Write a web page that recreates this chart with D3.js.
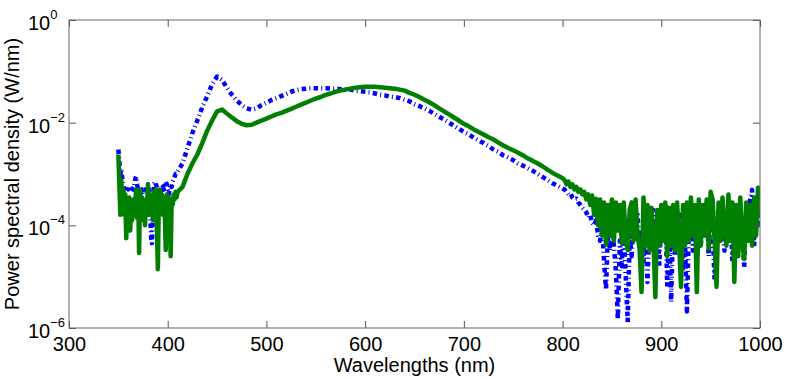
<!DOCTYPE html>
<html>
<head>
<meta charset="utf-8">
<script src="https://cdn.jsdelivr.net/npm/d3@7"></script>
<style>
  body { margin: 0; background: #fff; }
  text { font-family: "Liberation Sans", Arial, sans-serif; fill: #000; }
</style>
</head>
<body>
<script>
// wavelength grids (nm) for the three parts of the spectrum
var wlLeft = d3.range(350, 411, 1);
var wlMid = d3.range(415, 801, 5);
var wlRight = d3.range(802, 1001, 2);

var xTicks = [300, 400, 500, 600, 700, 800, 900, 1000];
var yTicks = [1e-6, 1e-4, 1e-2, 1];
var yTickExp = ["\u22126", "\u22124", "\u22122", "0"];

// blue dash-dot series (W/nm)
var blueLeft = [
  3.0e-3, 1.8e-3, 1.0e-3, 1.26e-3, 7.9e-4, 6.3e-4, 5.0e-4, 5.6e-4, 4.5e-4, 5.0e-4,
  5.0e-4, 5.6e-4, 5.0e-4, 4.5e-4, 5.2e-4, 5.0e-4, 5.6e-4, 7.9e-4, 8.9e-4, 6.3e-4,
  5.0e-4, 4.5e-4, 5.0e-4, 4.5e-4, 5.0e-4, 4.5e-4, 4.0e-4, 4.5e-4, 5.0e-4, 5.6e-4,
  6.3e-4, 5.0e-4, 2.5e-4, 6.3e-5, 4.5e-5, 1.6e-4, 6.3e-4, 7.1e-4, 6.3e-4, 5.6e-4,
  5.0e-4, 4.5e-4, 5.0e-4, 4.0e-4, 5.0e-4, 5.6e-4, 5.0e-4, 6.3e-4, 7.1e-4, 6.3e-4,
  5.0e-4, 4.0e-4, 5.0e-4, 6.3e-4, 5.6e-4, 7.1e-4, 7.9e-4, 8.9e-4, 1.0e-3, 1.0e-3,
  1.12e-3
];
var blueMid = [
  1.6e-3, 3.2e-3, 6.3e-3, 1.1e-2, 2.0e-2, 3.3e-2, 5.6e-2, 7.9e-2, 6.8e-2, 4.8e-2,
  3.5e-2, 2.7e-2, 2.2e-2, 1.9e-2, 1.78e-2, 1.9e-2, 2.2e-2, 2.45e-2, 2.75e-2, 3.0e-2,
  3.3e-2, 3.6e-2, 4.0e-2, 4.3e-2, 4.5e-2, 4.6e-2, 4.7e-2, 4.7e-2, 4.7e-2, 4.7e-2,
  4.6e-2, 4.6e-2, 4.5e-2, 4.5e-2, 4.4e-2, 4.2e-2, 4.1e-2, 4.0e-2, 3.9e-2, 3.7e-2,
  3.5e-2, 3.4e-2, 3.2e-2, 3.16e-2, 3.0e-2, 2.8e-2, 2.6e-2, 2.3e-2, 2.1e-2, 1.9e-2,
  1.7e-2, 1.5e-2, 1.3e-2, 1.15e-2, 1.0e-2, 8.7e-3, 7.6e-3, 6.6e-3, 5.9e-3, 5.1e-3,
  4.5e-3, 4.0e-3, 3.5e-3, 3.0e-3, 2.7e-3, 2.3e-3, 2.1e-3, 1.86e-3, 1.6e-3, 1.45e-3,
  1.3e-3, 1.15e-3, 1.0e-3, 8.7e-4, 7.6e-4, 6.6e-4, 5.9e-4, 5.2e-4
];
var blueRight = [
  5.0e-4, 4.5e-4, 4.0e-4, 4.2e-4, 3.5e-4, 3.2e-4, 3.3e-4, 2.8e-4, 2.5e-4, 2.2e-4,
  2.0e-4, 1.8e-4, 1.4e-4, 1.6e-4, 1.12e-4, 1.0e-4, 1.26e-4, 6.3e-5, 5.0e-5, 1.0e-4,
  2.0e-5, 5.5e-6, 7.9e-5, 3.2e-5, 1.26e-4, 4.0e-5, 1.26e-5, 1.45e-6, 5.0e-5, 1.6e-5,
  1.0e-4, 1.0e-5, 1.26e-6, 6.3e-5, 2.5e-5, 2.0e-4, 5.0e-5, 1.6e-4, 4.0e-5, 7.9e-5,
  2.0e-5, 1.6e-4, 7.9e-6, 1.0e-4, 4.0e-5, 2.0e-4, 5.0e-5, 1.26e-4, 1.6e-5, 1.6e-4,
  6.3e-5, 2.5e-4, 6.3e-6, 1.0e-4, 3.2e-6, 1.26e-4, 2.5e-5, 2.0e-4, 4.0e-5, 1.6e-4,
  1.26e-5, 5.0e-5, 2.1e-6, 1.0e-4, 2.5e-4, 3.2e-5, 1.6e-4, 6.3e-5, 2.5e-4, 4.0e-5,
  2.0e-4, 7.9e-5, 2.8e-4, 2.5e-5, 2.0e-4, 7.9e-5, 8.5e-6, 1.0e-4, 2.0e-4, 5.0e-5,
  1.6e-4, 3.2e-5, 1.26e-4, 6.3e-5, 2.5e-4, 1.95e-5, 1.0e-4, 1.6e-4, 5.0e-5, 2.0e-4,
  6.3e-5, 1.55e-5, 1.6e-4, 7.9e-5, 3.2e-4, 4.9e-4, 3.8e-5, 2.0e-4, 1.0e-4, 2.5e-4
];

// green solid series (W/nm)
var greenLeft = [
  2.4e-3, 6.3e-4, 1.6e-4, 7.6e-4, 2.0e-4, 5.0e-4, 1.6e-4, 4.0e-4, 5.6e-5, 3.2e-4,
  1.26e-4, 3.5e-4, 7.9e-5, 2.5e-4, 1.26e-4, 3.2e-4, 1.6e-4, 2.2e-4, 5.0e-4, 1.4e-4,
  4.5e-4, 2.9e-5, 4.9e-4, 1.8e-4, 3.5e-4, 1.26e-4, 2.8e-4, 1.0e-4, 3.2e-4, 2.0e-4,
  6.2e-4, 1.6e-4, 4.0e-4, 2.0e-4, 3.5e-4, 1.26e-4, 4.5e-4, 2.5e-4, 5.0e-4, 1.0e-4,
  1.4e-5, 3.2e-4, 5.0e-4, 2.0e-4, 4.0e-4, 1.6e-4, 3.5e-4, 2.0e-4, 3.3e-5, 4.0e-4,
  2.5e-4, 3.5e-4, 1.6e-4, 2.5e-5, 3.2e-4, 2.5e-4, 4.0e-4, 3.2e-4, 4.5e-4, 3.5e-4,
  4.5e-4
];
var greenMid = [
  5.6e-4, 1.0e-3, 1.6e-3, 2.4e-3, 4.0e-3, 7.0e-3, 1.1e-2, 1.66e-2, 1.8e-2, 1.5e-2,
  1.26e-2, 1.07e-2, 9.5e-3, 8.9e-3, 9.1e-3, 1.0e-2, 1.1e-2, 1.2e-2, 1.32e-2, 1.45e-2,
  1.55e-2, 1.7e-2, 1.86e-2, 2.04e-2, 2.24e-2, 2.45e-2, 2.7e-2, 2.95e-2, 3.16e-2, 3.47e-2,
  3.7e-2, 4.0e-2, 4.2e-2, 4.4e-2, 4.6e-2, 4.8e-2, 4.9e-2, 5.0e-2, 5.0e-2, 5.0e-2,
  4.9e-2, 4.8e-2, 4.7e-2, 4.6e-2, 4.4e-2, 4.2e-2, 3.8e-2, 3.5e-2, 3.16e-2, 2.8e-2,
  2.5e-2, 2.2e-2, 1.9e-2, 1.66e-2, 1.45e-2, 1.26e-2, 1.1e-2, 9.5e-3, 8.5e-3, 7.4e-3,
  6.6e-3, 5.9e-3, 5.2e-3, 4.7e-3, 4.1e-3, 3.6e-3, 3.2e-3, 2.9e-3, 2.6e-3, 2.3e-3,
  2.0e-3, 1.8e-3, 1.6e-3, 1.4e-3, 1.2e-3, 1.05e-3, 9.3e-4, 8.3e-4
];
var greenRight = [
  7.6e-4, 6.3e-4, 7.1e-4, 5.6e-4, 6.3e-4, 5.0e-4, 5.6e-4, 4.5e-4, 5.0e-4, 4.0e-4,
  4.5e-4, 3.2e-4, 4.0e-4, 2.5e-4, 3.8e-4, 1.6e-4, 3.3e-4, 1.0e-4, 3.2e-4, 6.3e-5,
  2.8e-4, 4.2e-5, 2.5e-4, 6.3e-5, 3.2e-4, 5.0e-5, 2.8e-4, 7.9e-5, 2.5e-4, 4.5e-5,
  2.8e-4, 5.0e-5, 3.3e-5, 2.0e-4, 2.8e-4, 5.0e-5, 3.2e-4, 6.3e-5, 3.5e-5, 5.0e-6,
  3.5e-4, 4.0e-5, 2.5e-4, 3.2e-5, 2.2e-4, 5.0e-5, 4.0e-6, 2.0e-4, 4.0e-5, 2.5e-4,
  5.0e-5, 2.8e-4, 2.5e-5, 2.2e-4, 4.0e-5, 2.5e-4, 3.2e-5, 2.8e-4, 5.0e-5, 6.3e-6,
  2.5e-4, 4.0e-5, 2.8e-4, 5.0e-5, 3.5e-4, 6.3e-5, 2.5e-4, 5.0e-6, 3.2e-4, 4.0e-5,
  2.5e-4, 6.3e-5, 3.2e-4, 3.5e-5, 4.5e-4, 3.2e-4, 5.0e-5, 6.3e-6, 2.8e-4, 5.0e-5,
  3.5e-4, 7.9e-5, 4.0e-5, 4.0e-4, 5.0e-5, 2.8e-4, 7.9e-6, 2.5e-4, 2.5e-5, 3.5e-4,
  5.0e-5, 2.2e-5, 2.8e-4, 5.0e-5, 2.5e-4, 4.0e-5, 3.5e-4, 6.3e-5, 5.4e-4, 1.6e-4
];

var wavelengths = wlLeft.concat(wlMid, wlRight);
var bluePsd = blueLeft.concat(blueMid, blueRight);
var greenPsd = greenLeft.concat(greenMid, greenRight);

var svgWidth = 789;
var svgHeight = 378;
var margin = { top: 20, right: 29, bottom: 50, left: 69 };
var width = svgWidth - margin.left - margin.right;
var height = svgHeight - margin.top - margin.bottom;

var svg = d3.select("body")
  .append("svg")
  .attr("width", svgWidth)
  .attr("height", svgHeight);

var chart = svg.append("g")
  .attr("transform", "translate(" + margin.left + "," + margin.top + ")");

var x = d3.scaleLinear().domain([300, 1000]).range([0, width]);
var y = d3.scaleLog().domain([1e-6, 1]).range([height, 0]);

chart.append("clipPath").attr("id", "plotclip")
  .append("rect").attr("width", width).attr("height", height);

// lines
var line = d3.line()
  .x(function(d) { return x(d[0]); })
  .y(function(d) { return y(d[1]); });

var blueData = wavelengths.map(function(w, i) { return [w, bluePsd[i]]; });
var greenData = wavelengths.map(function(w, i) { return [w, greenPsd[i]]; });

chart.append("path")
  .datum(blueData)
  .attr("clip-path", "url(#plotclip)")
  .attr("d", line)
  .attr("fill", "none")
  .attr("stroke", "#0000ff")
  .attr("stroke-width", 4.5)
  .attr("stroke-linejoin", "round")
  .attr("stroke-dasharray", "4.5,3.2,1,3.2");

chart.append("path")
  .datum(greenData)
  .attr("clip-path", "url(#plotclip)")
  .attr("d", line)
  .attr("fill", "none")
  .attr("stroke", "#007f00")
  .attr("stroke-width", 4.5)
  .attr("stroke-linejoin", "round");

// axes, ticks pointing inward
var bottomAxis = d3.axisBottom(x).tickValues(xTicks)
  .tickSizeInner(-7).tickSizeOuter(0).tickPadding(9)
  .tickFormat(d3.format("d"));
var topAxis = d3.axisTop(x).tickValues(xTicks)
  .tickSizeInner(-7).tickSizeOuter(0).tickFormat("");
var leftAxis = d3.axisLeft(y).tickValues(yTicks)
  .tickSizeInner(-7).tickSizeOuter(0).tickFormat("");
var rightAxis = d3.axisRight(y).tickValues(yTicks)
  .tickSizeInner(-7).tickSizeOuter(0).tickFormat("");

var gx = chart.append("g").attr("transform", "translate(0," + height + ")").call(bottomAxis);
chart.append("g").call(topAxis);
chart.append("g").call(leftAxis);
chart.append("g").attr("transform", "translate(" + width + ",0)").call(rightAxis);

chart.selectAll(".domain").remove();
chart.selectAll(".tick line").attr("stroke", "#555");
gx.selectAll("text").style("font-size", "20px");

chart.append("rect")
  .attr("width", width)
  .attr("height", height)
  .attr("fill", "none")
  .attr("stroke", "#666")
  .attr("stroke-width", 1);

// y tick labels as 10 with superscript exponent
yTicks.forEach(function(v, i) {
  var t = chart.append("text")
    .attr("x", -41)
    .attr("y", y(v) + 10)
    .style("font-size", "20px");
  t.append("tspan").text("10");
  t.append("tspan")
    .attr("dy", -11)
    .style("font-size", "13px")
    .text(yTickExp[i]);
});

// axis titles
chart.append("text")
  .attr("x", width / 2)
  .attr("y", height + 44)
  .attr("text-anchor", "middle")
  .style("font-size", "20px")
  .text("Wavelengths (nm)");

chart.append("text")
  .attr("transform", "translate(" + (-50) + "," + (height / 2) + ") rotate(-90)")
  .attr("text-anchor", "middle")
  .style("font-size", "20px")
  .text("Power spectral density (W/nm)");
</script>
</body>
</html>
